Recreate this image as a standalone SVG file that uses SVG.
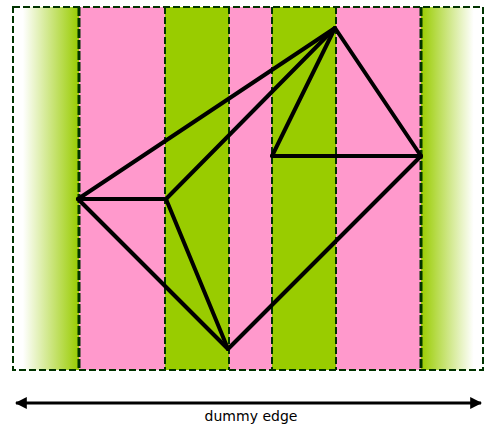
<svg xmlns="http://www.w3.org/2000/svg" width="484" height="426" viewBox="0 0 484 426">
<defs>
<linearGradient id="gl" x1="0" y1="0" x2="1" y2="0">
<stop offset="0.15" stop-color="#ffffff"/>
<stop offset="1" stop-color="#99cc00"/>
</linearGradient>
<linearGradient id="gr" x1="0" y1="0" x2="1" y2="0">
<stop offset="0" stop-color="#99cc00"/>
<stop offset="0.85" stop-color="#ffffff"/>
</linearGradient>
<marker id="ah" viewBox="0 0 10 10" refX="9" refY="5" markerWidth="4" markerHeight="4" orient="auto-start-reverse">
<path d="M0,0 L10,5 L0,10 z" fill="#000"/>
</marker>
<style>
.pink{fill:#ff99cc}
.green{fill:#99cc00}
.col{stroke:#003300;stroke-width:2;stroke-dasharray:7,3;fill:none}
.thick{stroke:#003300;stroke-width:3;stroke-dasharray:9,2;fill:none}
.edge{stroke:#000;stroke-width:4;fill:none;stroke-linecap:round;stroke-linejoin:round}
.lbl{font-family:"DejaVu Sans","Liberation Sans",sans-serif;font-size:14px;fill:#000}
</style>
</defs>
<rect width="484" height="426" fill="#ffffff"/>
<g id="columns">
<rect x="13" y="7" width="66" height="363" fill="url(#gl)"/>
<rect x="79" y="7" width="86" height="363" class="pink"/>
<rect x="165" y="7" width="64" height="363" class="green"/>
<rect x="229" y="7" width="43" height="363" class="pink"/>
<rect x="272" y="7" width="64" height="363" class="green"/>
<rect x="336" y="7" width="85" height="363" class="pink"/>
<rect x="421" y="7" width="62" height="363" fill="url(#gr)"/>
<rect x="13" y="7" width="470" height="363" class="col"/>
<line x1="165" y1="7" x2="165" y2="370" class="col"/>
<line x1="229" y1="7" x2="229" y2="370" class="col"/>
<line x1="272" y1="7" x2="272" y2="370" class="col"/>
<line x1="336" y1="7" x2="336" y2="370" class="col"/>
<line x1="79" y1="7" x2="79" y2="370" class="thick"/>
<line x1="421" y1="7" x2="421" y2="370" class="thick"/>
</g>
<g id="connectors">
<line x1="335" y1="28" x2="78" y2="199" class="edge"/>
<line x1="335" y1="28" x2="166" y2="199" class="edge"/>
<line x1="335" y1="28" x2="272" y2="156" class="edge"/>
<line x1="335" y1="28" x2="421" y2="156" class="edge"/>
<line x1="78" y1="199" x2="166" y2="199" class="edge"/>
<line x1="78" y1="199" x2="228" y2="349" class="edge"/>
<line x1="166" y1="199" x2="228" y2="349" class="edge"/>
<line x1="228" y1="349" x2="421" y2="156" class="edge"/>
<line x1="272" y1="156" x2="421" y2="156" class="edge"/>
</g>
<g id="node-A"><circle cx="335" cy="28" r="0.1" fill="none"/></g>
<g id="node-B"><circle cx="78" cy="199" r="0.1" fill="none"/></g>
<g id="node-C"><circle cx="166" cy="199" r="0.1" fill="none"/></g>
<g id="node-D"><circle cx="228" cy="349" r="0.1" fill="none"/></g>
<g id="node-E"><circle cx="272" cy="156" r="0.1" fill="none"/></g>
<g id="node-F"><circle cx="421" cy="156" r="0.1" fill="none"/></g>
<g id="dummy-edge">
<line x1="16" y1="403" x2="481" y2="403" stroke="#000" stroke-width="3" marker-start="url(#ah)" marker-end="url(#ah)"/>
<text x="251" y="421" text-anchor="middle" class="lbl">dummy edge</text>
</g>
</svg>
